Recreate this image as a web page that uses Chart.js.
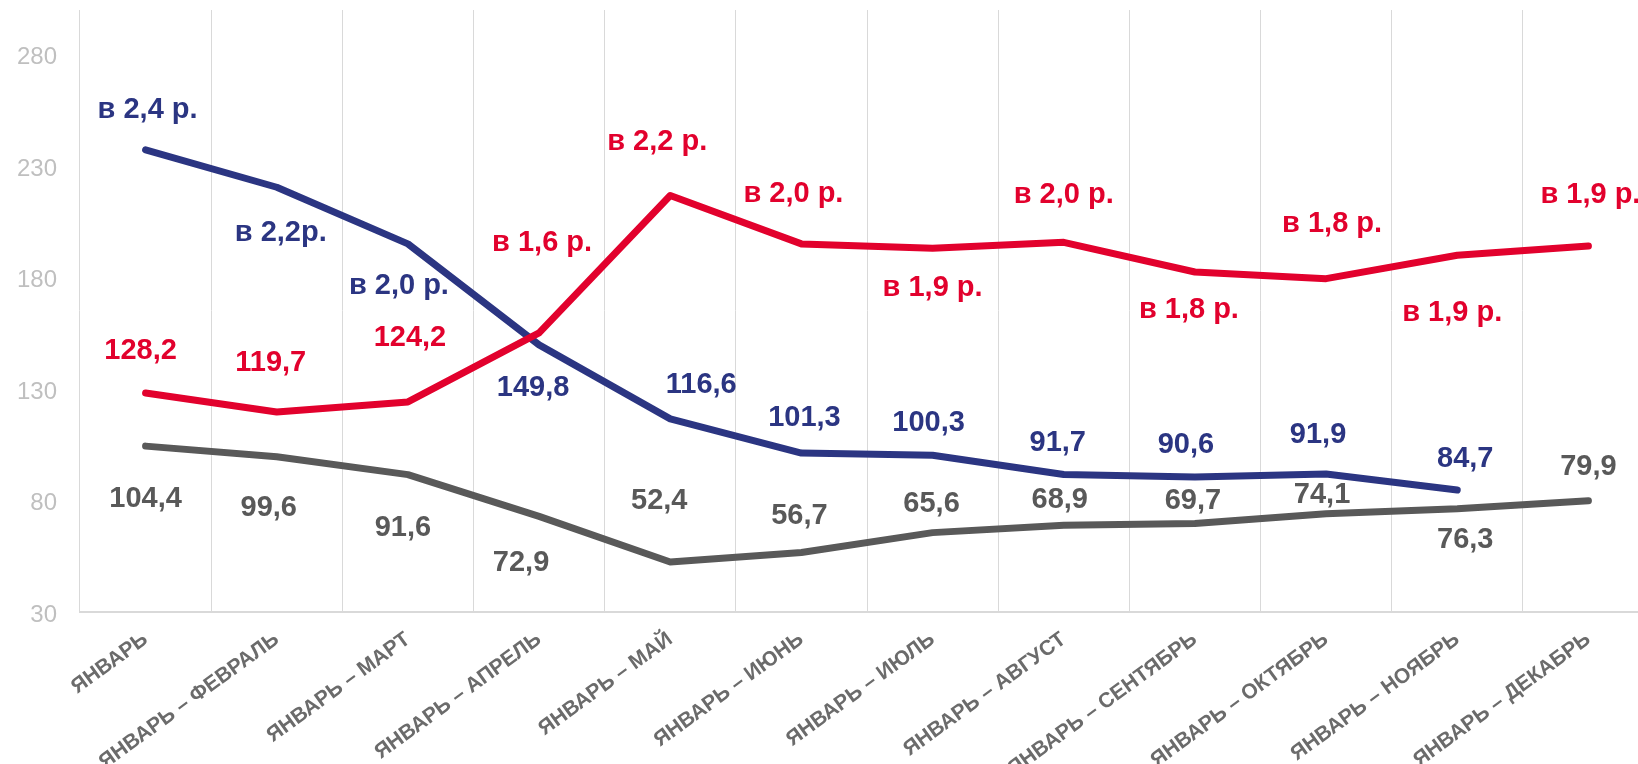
<!DOCTYPE html>
<html>
<head>
<meta charset="utf-8">
<script src="https://cdn.jsdelivr.net/npm/chart.js@4.4.1/dist/chart.umd.min.js"></script>
<style>
  html, body { margin: 0; padding: 0; background: #fff; overflow: hidden; }
  #wrap { width: 1654px; height: 764px; }
</style>
</head>
<body>
<div id="wrap"><canvas id="chart"></canvas></div>
<script>
const categories = ['ЯНВАРЬ', 'ЯНВАРЬ – ФЕВРАЛЬ', 'ЯНВАРЬ – МАРТ', 'ЯНВАРЬ – АПРЕЛЬ', 'ЯНВАРЬ – МАЙ', 'ЯНВАРЬ – ИЮНЬ',
    'ЯНВАРЬ – ИЮЛЬ', 'ЯНВАРЬ – АВГУСТ', 'ЯНВАРЬ – СЕНТЯБРЬ', 'ЯНВАРЬ – ОКТЯБРЬ', 'ЯНВАРЬ – НОЯБРЬ', 'ЯНВАРЬ – ДЕКАБРЬ'];

const redValues = [128.2, 119.7, 124.2, 155.2, 216.8, 195.1, 193.1, 195.8, 182.5, 179.5, 190.0, 194.2];
const blueValues = [237.3, 220.5, 195.1, 149.8, 116.6, 101.3, 100.3, 91.7, 90.6, 91.9, 84.7, null];
const greyValues = [104.4, 99.6, 91.6, 72.9, 52.4, 56.7, 65.6, 68.9, 69.7, 74.1, 76.3, 79.9];

const redLabels = ['128,2', '119,7', '124,2', 'в 1,6 р.', 'в 2,2 р.', 'в 2,0 р.', 'в 1,9 р.', 'в 2,0 р.', 'в 1,8 р.', 'в 1,8 р.', 'в 1,9 р.', 'в 1,9 р.'];
const blueLabels = ['в 2,4 р.', 'в 2,2р.', 'в 2,0 р.', '149,8', '116,6', '101,3', '100,3', '91,7', '90,6', '91,9', '84,7', null];
const greyLabels = ['104,4', '99,6', '91,6', '72,9', '52,4', '56,7', '65,6', '68,9', '69,7', '74,1', '76,3', '79,9'];

const yTicks = [30, 80, 130, 180, 230, 280];

// where each data label sits relative to its point (px)
const redOffsets = [[-5,-42],[-6,-49],[2,-64],[3,-90],[-13,-54],[-8,-50],[0,40],[0,-47],[-6,38],[6,-55],[-5,58],[2,-51]];
const blueOffsets = [[2,-40],[4,46],[-9,42],[-6,43],[31,-34],[3,-35],[-4,-32],[-6,-31],[-9,-32],[-8,-39],[8,-31],[0,0]];
const greyOffsets = [[0,53],[-8,51],[-5,53],[-18,47],[-11,-61],[-2,-36],[-1,-29],[-4,-25],[-2,-22],[-4,-19],[8,31],[0,-34]];

const RED = '#e2012d';
const BLUE = '#2b3582';
const GREY = '#595959';
const FONT = "'Liberation Sans', Arial, sans-serif";

const pointLabels = {
    id: 'pointLabels',
    afterDatasetsDraw(chart) {
        const ctx = chart.ctx;
        ctx.save();
        ctx.font = 'bold 29px ' + FONT;
        ctx.textAlign = 'center';
        ctx.textBaseline = 'middle';
        chart.data.datasets.forEach((ds, i) => {
            const meta = chart.getDatasetMeta(i);
            ctx.fillStyle = ds.borderColor;
            meta.data.forEach((pt, j) => {
                const text = ds.pointText[j];
                if (!text) return;
                const off = ds.textOffsets[j];
                ctx.fillText(text, pt.x + off[0], pt.y + off[1]);
            });
        });
        ctx.restore();
    }
};

const lineStyle = {
    borderWidth: 7,
    pointRadius: 0,
    tension: 0,
    borderCapStyle: 'round',
    borderJoinStyle: 'round',
    fill: false
};

new Chart(document.getElementById('chart'), {
    type: 'line',
    data: {
        labels: categories,
        datasets: [
            Object.assign({ label: 'grey', data: greyValues, borderColor: GREY, pointText: greyLabels, textOffsets: greyOffsets }, lineStyle),
            Object.assign({ label: 'red', data: redValues, borderColor: RED, pointText: redLabels, textOffsets: redOffsets }, lineStyle),
            Object.assign({ label: 'blue', data: blueValues, borderColor: BLUE, pointText: blueLabels, textOffsets: blueOffsets }, lineStyle)
        ]
    },
    options: {
        responsive: true,
        maintainAspectRatio: false,
        animation: false,
        layout: { padding: { top: 10, left: 0, right: 0, bottom: 0 } },
        plugins: {
            legend: { display: false },
            tooltip: { enabled: false }
        },
        scales: {
            x: {
                offset: true,
                grid: { offset: true, color: '#d9d9d9', lineWidth: 1, drawTicks: false },
                border: { display: true, color: '#d9d9d9', width: 2 },
                ticks: {
                    color: '#6b6b6b',
                    font: { family: FONT, size: 21, weight: 'bold' },
                    minRotation: 36,
                    maxRotation: 36,
                    autoSkip: false,
                    padding: 15
                },
                afterFit(scale) { scale.height = 152; }
            },
            y: {
                min: 30,
                max: 300,
                grid: { display: false, drawTicks: false },
                border: { display: false },
                ticks: {
                    color: '#bfbfbf',
                    font: { family: FONT, size: 24 },
                    padding: 23,
                    labelOffset: 3
                },
                afterBuildTicks(scale) { scale.ticks = yTicks.map(v => ({ value: v })); },
                afterFit(scale) {
                    scale.width = 80;
                    scale.paddingTop = 0;
                    scale.paddingBottom = 0;
                }
            }
        }
    },
    plugins: [pointLabels]
});
</script>
</body>
</html>
